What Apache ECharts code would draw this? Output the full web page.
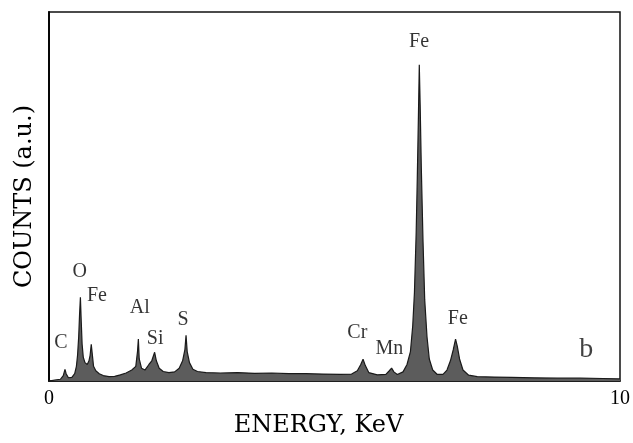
<!DOCTYPE html>
<html>
<head>
<meta charset="utf-8">
<script src="https://cdn.jsdelivr.net/npm/echarts@6/dist/echarts.min.js"></script>
<style>
  html, body { margin: 0; padding: 0; background: #fff; }
  #chart { width: 633px; height: 443px; }
</style>
</head>
<body>
<div id="chart"></div>
<script>
// EDS spectrum, energy in keV and counts in arbitrary units
const energy = [
  0.00, 0.10, 0.20, 0.25, 0.28, 0.30, 0.34, 0.40, 0.45, 0.48,
  0.50, 0.52, 0.535, 0.55, 0.565, 0.58, 0.60, 0.63, 0.67, 0.70,
  0.72, 0.74, 0.76, 0.78, 0.82, 0.88, 0.95, 1.05, 1.15, 1.25,
  1.35, 1.45, 1.52, 1.55, 1.565, 1.58, 1.62, 1.68, 1.75, 1.80,
  1.85, 1.88, 1.93, 2.00, 2.10, 2.20, 2.28, 2.34, 2.38, 2.40,
  2.42, 2.46, 2.52, 2.60, 2.75, 3.00, 3.30, 3.60, 3.90, 4.20,
  4.50, 4.80, 5.10, 5.30, 5.40, 5.46, 5.50, 5.54, 5.60, 5.75,
  5.90, 5.96, 6.00, 6.04, 6.10, 6.20, 6.27, 6.33, 6.37, 6.40,
  6.43, 6.45, 6.47, 6.485, 6.50, 6.52, 6.55, 6.58, 6.62, 6.66,
  6.72, 6.80, 6.90, 6.97, 7.03, 7.08, 7.12, 7.15, 7.19, 7.25,
  7.35, 7.50, 7.80, 8.10, 8.50, 8.90, 9.30, 9.70, 10.00
];
const counts = [
  0, 0.3, 0.5, 1.5, 3.2, 2.0, 0.9, 1.0, 2.0, 4.0,
  7.0, 12, 18, 22.7, 16, 10, 6.5, 5.0, 4.5, 5.5,
  7.0, 10.0, 7.0, 4.0, 2.8, 2.0, 1.5, 1.2, 1.3, 1.7,
  2.2, 3.0, 4.0, 8.0, 11.4, 6.0, 3.5, 3.0, 4.5, 5.5,
  7.8, 5.5, 3.5, 2.6, 2.3, 2.5, 3.5, 5.5, 8.5, 12.4,
  8.0, 5.0, 3.2, 2.6, 2.3, 2.2, 2.3, 2.1, 2.2, 2.0,
  2.0, 1.9, 1.8, 1.9, 2.8, 4.5, 5.9, 4.2, 2.3, 1.7,
  1.8, 2.8, 3.5, 2.5, 1.8, 2.5, 4.5, 8, 15, 24,
  40, 55, 72, 85.7, 75, 58, 38, 22, 12, 6,
  3, 1.8, 1.8, 3.0, 5.5, 8.5, 11.4, 9.5, 6.0, 3.0,
  1.6, 1.2, 1.1, 1.0, 0.9, 0.8, 0.8, 0.7, 0.6
];

// peak labels: name, energy position, height
const peakNames = ['C', 'O', 'Fe', 'Al', 'Si', 'S', 'Cr', 'Mn', 'Fe', 'Fe'];
const peakX = [0.21, 0.54, 0.84, 1.59, 1.86, 2.35, 5.40, 5.96, 6.48, 7.16];
const peakY = [10.5, 29.7, 23, 20, 11.4, 16.5, 13.2, 8.9, 91.9, 16.8];

const xTicks = [0, 10];

const chart = echarts.init(document.getElementById('chart'));

const spectrum = energy.map((e, i) => [e, counts[i]]);
const peaks = peakNames.map((n, i) => ({ name: n, value: [peakX[i], peakY[i]] }));

const serif = 'Liberation Serif';
const wideSerif = 'DejaVu Serif';

const option = {
  animation: false,
  grid: {
    left: 49, right: 9, top: 12, bottom: 61,
    show: true, borderColor: '#111', borderWidth: 1.5
  },
  xAxis: {
    type: 'value',
    min: 0, max: 10, interval: 10,
    name: 'ENERGY, KeV',
    nameLocation: 'middle',
    nameGap: 32,
    nameTextStyle: { fontFamily: wideSerif, fontSize: 24, color: '#000', padding: [0, 32, 0, 0] },
    axisLine: { show: true, lineStyle: { color: '#111', width: 1.5 } },
    axisTick: { show: false },
    splitLine: { show: false },
    axisLabel: {
      fontFamily: serif, fontSize: 20, color: '#000', margin: 8,
      formatter: v => (xTicks.indexOf(v) >= 0 ? String(v) : '')
    }
  },
  yAxis: {
    type: 'value',
    min: 0, max: 100,
    name: 'COUNTS (a.u.)',
    nameLocation: 'middle',
    nameGap: 12,
    nameRotate: 90,
    nameTextStyle: { fontFamily: wideSerif, fontSize: 24, color: '#000' },
    axisLine: { show: true, lineStyle: { color: '#000', width: 1.8 } },
    axisTick: { show: false },
    axisLabel: { show: false },
    splitLine: { show: false }
  },
  series: [
    {
      type: 'line',
      data: spectrum,
      symbol: 'none',
      lineStyle: { color: '#1a1a1a', width: 1.2 },
      areaStyle: { color: '#5c5c5c', opacity: 1 },
      z: 2
    },
    {
      type: 'scatter',
      data: peaks,
      symbolSize: 0,
      label: {
        show: true,
        position: 'inside',
        formatter: p => p.name,
        fontFamily: serif,
        fontSize: 20,
        color: '#000'
      },
      z: 3
    },
    {
      type: 'scatter',
      data: [{ name: 'b', value: [9.41, 8.6] }],
      symbolSize: 0,
      label: {
        show: true,
        position: 'inside',
        formatter: 'b',
        fontFamily: serif,
        fontSize: 28,
        color: '#111'
      },
      z: 3
    }
  ]
};

chart.setOption(option);
</script>
</body>
</html>
